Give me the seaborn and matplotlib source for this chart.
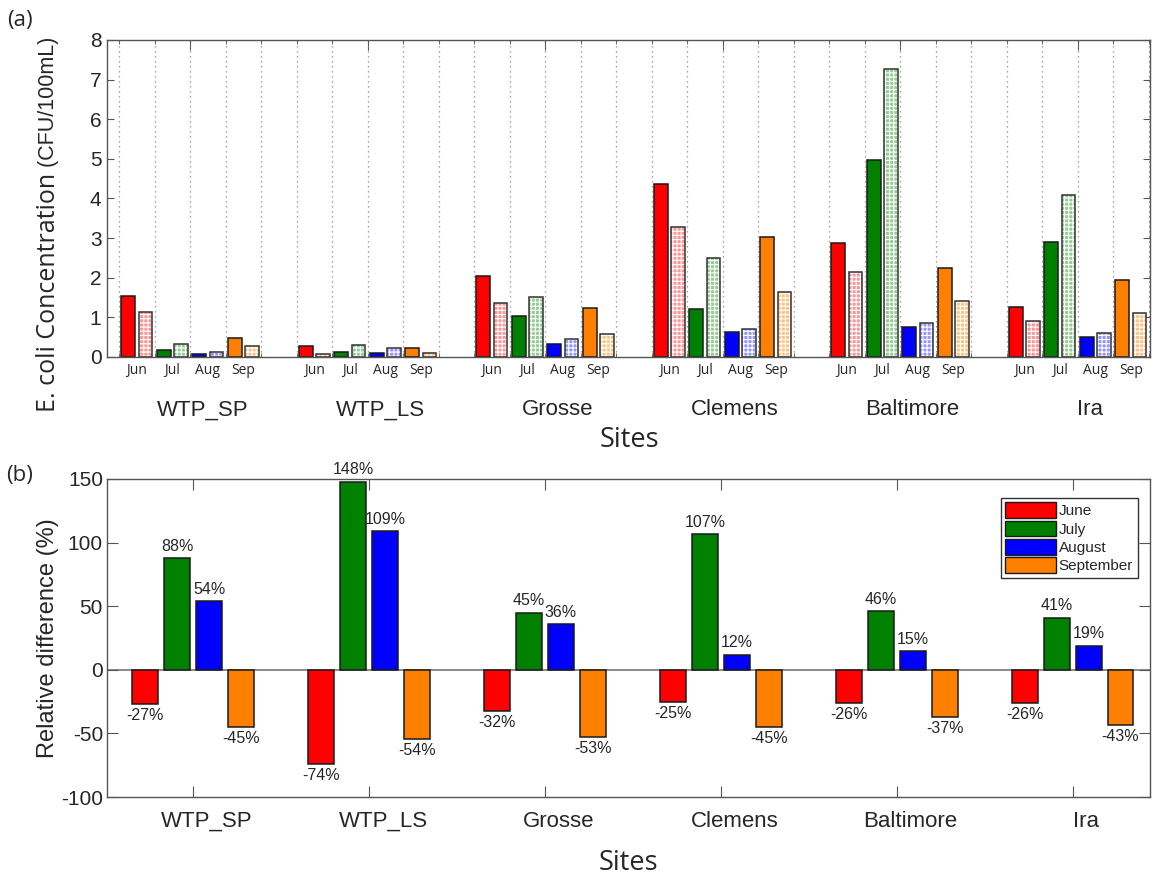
import numpy as np
import pandas as pd
import matplotlib
matplotlib.use("Agg")
import matplotlib.pyplot as plt
import seaborn as sns
from matplotlib.patches import Rectangle
from matplotlib.transforms import ScaledTranslation, blended_transform_factory

# ---------------- data ----------------
sites = ["WTP_SP", "WTP_LS", "Grosse", "Clemens", "Baltimore", "Ira"]
months_short = ["Jun", "Jul", "Aug", "Sep"]
months_long = ["June", "July", "August", "September"]

# panel (a): solid bars and hatched bars, per site, per month (Jun..Sep)
solid_vals = [
    [1.55, 0.18, 0.08, 0.49],
    [0.28, 0.13, 0.11, 0.23],
    [2.04, 1.04, 0.34, 1.23],
    [4.36, 1.20, 0.64, 3.02],
    [2.88, 4.96, 0.75, 2.24],
    [1.25, 2.90, 0.50, 1.95],
]
hatched_vals = [
    [1.13, 0.33, 0.13, 0.28],
    [0.07, 0.31, 0.23, 0.11],
    [1.37, 1.52, 0.46, 0.58],
    [3.28, 2.50, 0.70, 1.65],
    [2.14, 7.27, 0.87, 1.41],
    [0.92, 4.10, 0.60, 1.11],
]

# panel (b): relative difference (%)
rel_diff = [
    [-27, 88, 54, -45],
    [-74, 148, 109, -54],
    [-32, 45, 36, -53],
    [-25, 107, 12, -45],
    [-26, 46, 15, -37],
    [-26, 41, 19, -43],
]

month_colors = ["#ff0000", "#008000", "#0000ff", "#ff8000"]
light_colors = ["#ff9696", "#96cd96", "#9696ff", "#ffc382"]
edge_col = "#1a1a1a"
axis_col = "#555555"
text_col = "#262626"

# ---------------- style ----------------
sns.set_style("ticks")
plt.rcParams["font.family"] = ["Liberation Sans", "DejaVu Sans"]
plt.rcParams["hatch.linewidth"] = 0.8
plt.rcParams["axes.unicode_minus"] = False

fig = plt.figure(figsize=(11.56, 8.75), dpi=100)
ax1 = fig.add_axes([0.0926, 0.592, 0.9022, 0.3623])
ax2 = fig.add_axes([0.0926, 0.0891, 0.9022, 0.3635])

# ---------------- panel (a) ----------------
rows = []
slot_per_site = 5
for s, site in enumerate(sites):
    for m, mon in enumerate(months_short):
        pos = s * slot_per_site + m + 0.5
        rows.append(dict(pos=pos, value=solid_vals[s][m], kind="solid", month=m, site=site))
        rows.append(dict(pos=pos, value=hatched_vals[s][m], kind="hatched", month=m, site=site))
df_top = pd.DataFrame(rows)

sns.barplot(data=df_top, x="pos", y="value", hue="kind", hue_order=["solid", "hatched"],
            native_scale=True, width=0.97, gap=0.2, dodge=True, errorbar=None,
            legend=False, ax=ax1, linewidth=1.1, edgecolor=edge_col)

months_order = df_top[df_top.kind == "solid"].sort_values("pos")["month"].tolist()
for p, m in zip(ax1.containers[0].patches, months_order):
    p.set_facecolor(month_colors[m])
    p.set_edgecolor(edge_col)
    p.set_linewidth(1.1)
for p, m in zip(ax1.containers[1].patches, months_order):
    p.set_facecolor(light_colors[m])
    p.set_edgecolor("white")
    p.set_hatch("++++")
    p.set_linewidth(0)
    ax1.add_patch(Rectangle(p.get_xy(), p.get_width(), p.get_height(), fill=False,
                            ec="#333333", lw=1.1, zorder=p.get_zorder() + 0.1))

n_slots = len(sites) * slot_per_site
ax1.set_xlim(-0.34, n_slots - 1 + 0.04)
ax1.set_ylim(0, 8)
ax1.set_yticks(range(0, 9))
# month labels at slot centers
centers = sorted(df_top["pos"].unique())
ax1.set_xticks(centers)
ax1.set_xticklabels(months_short * len(sites), fontfamily="Open Sans", fontsize=10, color=text_col)
ax1.set_xticks(np.arange(0, n_slots), minor=True)
ax1.tick_params(axis="x", which="major", length=0, pad=4)
ax1.tick_params(axis="x", which="minor", direction="in", length=3, top=True, bottom=True, color=axis_col)
ax1.tick_params(axis="y", which="major", direction="in", length=5, left=True, right=True,
                labelsize=15, color=axis_col, labelcolor=text_col, pad=4)
ax1.grid(True, which="minor", axis="x", linestyle=(0, (1, 3)), color="#888888", linewidth=0.9)
ax1.grid(False, which="major")
sec = ax1.secondary_xaxis("top")
sec.set_xticks([s * slot_per_site + 2 for s in range(len(sites))])
sec.set_xticklabels([])
sec.tick_params(direction="in", length=7, color=axis_col)
sec.spines["top"].set_visible(False)

tr1 = blended_transform_factory(ax1.transData, ax1.transAxes)
for s, site in enumerate(sites):
    ax1.annotate(site, xy=(s * slot_per_site + 2, -0.167), xycoords=tr1, xytext=(9, 0),
                 textcoords="offset points", ha="center", va="center", fontsize=16, color=text_col)
ax1.text(0.5005, -0.262, "Sites", transform=ax1.transAxes, ha="center", va="center",
         fontsize=19.5, fontfamily="Open Sans", color=text_col)
ax1.set_xlabel("")
ax1.set_ylabel("")
ax1.text(-0.0565, 0.580, "E. coli Concentration", transform=ax1.transAxes, rotation=90,
         ha="center", va="top", fontsize=18, fontfamily="Open Sans", color=text_col)
ax1.text(-0.0565, 0.580, " (CFU/100mL)", transform=ax1.transAxes, rotation=90,
         ha="center", va="bottom", fontsize=15.5, color=text_col)
for sp in ax1.spines.values():
    sp.set_color(axis_col)
    sp.set_linewidth(1.0)

# ---------------- panel (b) ----------------
rows = []
for s, site in enumerate(sites):
    for m, mon in enumerate(months_long):
        rows.append(dict(site=site, month=mon, diff=rel_diff[s][m]))
df_bot = pd.DataFrame(rows)

sns.barplot(data=df_bot, x="site", y="diff", hue="month", order=sites, hue_order=months_long,
            palette=month_colors, saturation=1, width=0.727, gap=0.19, errorbar=None,
            ax=ax2, linewidth=1.1, edgecolor=edge_col)
ax2.axhline(0, color="#777777", linewidth=1.2, zorder=0.5)
for cont in ax2.containers:
    ax2.bar_label(cont, fmt="{:.0f}%", padding=3, fontsize=11.5, color=text_col)

ax2.set_xlim(-0.49, len(sites) - 1 + 0.44)
ax2.set_ylim(-100, 150)
ax2.set_yticks([-100, -50, 0, 50, 100, 150])
ax2.tick_params(axis="y", direction="in", length=8, left=True, right=True, labelsize=15,
                color=axis_col, labelcolor=text_col, pad=3)
ax2.tick_params(axis="x", direction="in", length=8, top=True, bottom=True, labelsize=16,
                color=axis_col, labelcolor=text_col, pad=10)
off = ScaledTranslation(10 / 72, 0, fig.dpi_scale_trans)
for lab in ax2.get_xticklabels():
    lab.set_transform(lab.get_transform() + off)
ax2.set_xlabel("")
ax2.set_ylabel("Relative difference (%)", fontsize=17, color=text_col, labelpad=1)
ax2.text(0.5, -0.208, "Sites", transform=ax2.transAxes, ha="center", va="center",
         fontsize=19.5, fontfamily="Open Sans", color=text_col)
for sp in ax2.spines.values():
    sp.set_color(axis_col)
    sp.set_linewidth(1.0)

leg = ax2.legend(loc="upper right", bbox_to_anchor=(0.9925, 0.955), fontsize=11,
                 handlelength=3.3, handleheight=1.2, handletextpad=0.2, labelspacing=0.15,
                 borderpad=0.3, borderaxespad=0.3, fancybox=False, framealpha=1, title=None)
leg.get_frame().set_edgecolor("#333333")
leg.get_frame().set_linewidth(1.0)
for h in leg.legend_handles:
    h.set_edgecolor(edge_col)
    h.set_linewidth(1.0)

fig.text(0.017, 0.977, "(a)", fontsize=16, ha="center", va="center", fontfamily="Open Sans", color=text_col)
fig.text(0.017, 0.457, "(b)", fontsize=16, ha="center", va="center", fontfamily="Open Sans", color=text_col)

fig.savefig("out.png", dpi=100)
